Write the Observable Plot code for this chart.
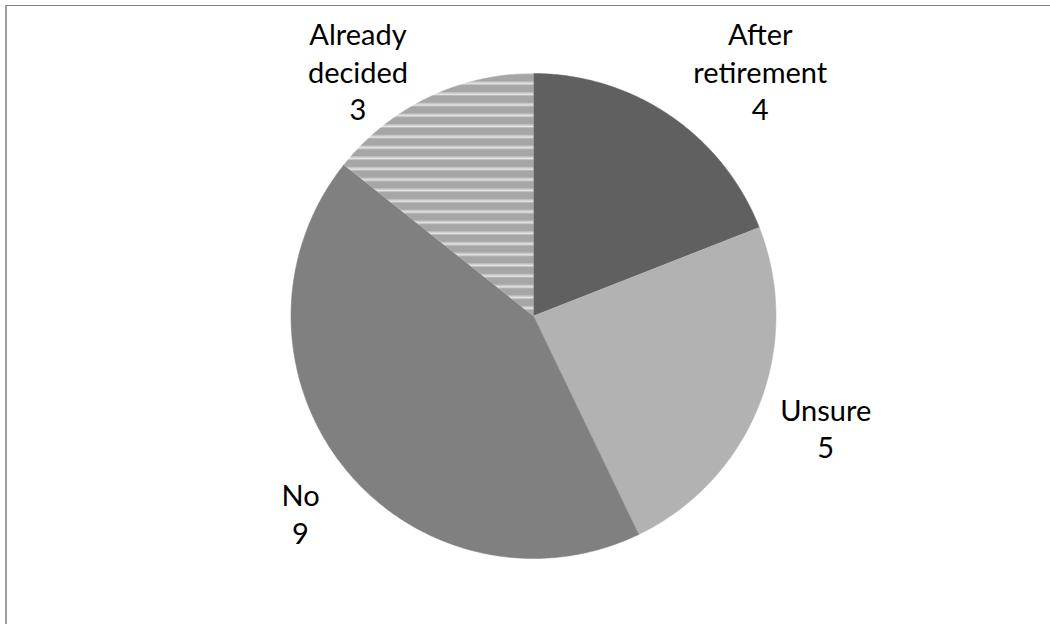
<!DOCTYPE html>
<html>
<head>
<meta charset="utf-8">
<script src="https://cdn.jsdelivr.net/npm/d3@7"></script>
<script src="https://cdn.jsdelivr.net/npm/@observablehq/plot@0.6"></script>
<style>
  html, body { margin: 0; padding: 0; background: #fff; width: 1050px; height: 624px; overflow: hidden; }
  #chart { position: relative; width: 1050px; height: 624px; }
  #chart svg { display: block; }
  #frame { position: absolute; left: 5px; top: 5px; right: -10px; bottom: -10px;
           border-top: 1px solid #808080; border-left: 2px solid #a0a0a0; pointer-events: none; }
</style>
</head>
<body>
<div id="chart"><div id="frame"></div></div>
<script>
// Survey answers, in clockwise order from 12 o'clock
const categories = ["After retirement", "Unsure", "No", "Already decided"];
const values = [4, 5, 9, 3];
const labelNames = ["After\nretirement", "Unsure", "No", "Already\ndecided"];
const sliceFills = ["#606060", "#b2b2b2", "#808080", "url(#stripes)"];

// Layout
const W = 1050, H = 624;
const cx = 533, cy = 315.5, R = 242.5;   // pie centre and radius in pixels
const labelRadius = 1.25;                 // label anchor, in radii
const labelNudge = {                      // pixel offsets for each label
  "After retirement": [56, 5],
  "Unsure": [10, 1],
  "No": [4, 8],
  "Already decided": [-44, 28]
};
const fontFamily = "Lato, 'Open Sans', sans-serif";

const rows = categories.map((c, i) => ({ cat: c, value: values[i], name: labelNames[i] }));
const arcs = d3.pie().sort(null).value(d => d.value)(rows);

// Slice outlines: centre, then points along the arc (angle 0 = up, clockwise)
const outline = [];
for (const a of arcs) {
  const n = Math.max(4, Math.ceil((a.endAngle - a.startAngle) / (2 * Math.PI) * 720));
  outline.push({ cat: a.data.cat, x: 0, y: 0 });
  for (let i = 0; i <= n; i++) {
    const t = a.startAngle + (a.endAngle - a.startAngle) * i / n;
    outline.push({ cat: a.data.cat, x: Math.sin(t), y: Math.cos(t) });
  }
}

const labels = arcs.map(a => {
  const m = (a.startAngle + a.endAngle) / 2;
  return {
    cat: a.data.cat,
    x: labelRadius * Math.sin(m),
    y: labelRadius * Math.cos(m),
    text: `${a.data.name}\n${a.data.value}`
  };
});

const chart = Plot.plot({
  width: W,
  height: H,
  margin: 0,
  style: { fontFamily, background: "transparent" },
  x: { domain: [(0 - cx) / R, (W - cx) / R], axis: null },
  y: { domain: [(cy - H) / R, cy / R], axis: null },
  color: { domain: categories, range: sliceFills },
  marks: [
    Plot.line(outline, { x: "x", y: "y", z: "cat", fill: "cat", stroke: "cat", strokeWidth: 0.5, curve: "linear" }),
    ...labels.map(d => Plot.text([d], {
      x: "x", y: "y", text: "text",
      dx: labelNudge[d.cat][0], dy: labelNudge[d.cat][1],
      fontSize: 29, lineHeight: 1.29, fill: "#000", fontFamily,
      textAnchor: "middle", lineAnchor: "middle"
    }))
  ]
});

// Horizontal stripe fill for the "Already decided" slice
const defs = d3.select(chart).insert("defs", ":first-child");
const pat = defs.append("pattern")
  .attr("id", "stripes")
  .attr("patternUnits", "userSpaceOnUse")
  .attr("width", 20).attr("height", 10.7);
pat.append("rect").attr("width", 20).attr("height", 10.7).attr("fill", "#a6a6a6");
pat.append("rect").attr("y", 6.0).attr("width", 20).attr("height", 1.3).attr("fill", "#c6c6c6");
pat.append("rect").attr("y", 7.3).attr("width", 20).attr("height", 1.4).attr("fill", "#ececec");
pat.append("rect").attr("y", 8.7).attr("width", 20).attr("height", 0.8).attr("fill", "#c6c6c6");

document.getElementById("chart").prepend(chart);
</script>
</body>
</html>
